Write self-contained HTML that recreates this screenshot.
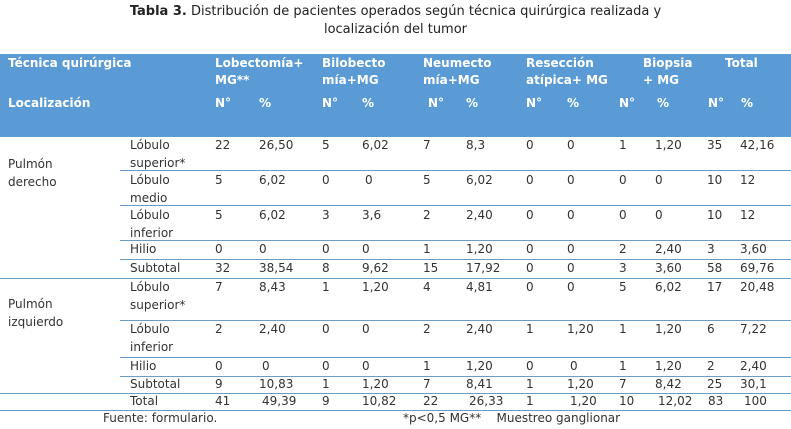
<!DOCTYPE html>
<html><head><meta charset="utf-8"><style>
body{margin:0;width:791px;height:429px;background:#fff;position:relative;overflow:hidden;font-family:"DejaVu Sans","Liberation Sans",sans-serif;font-size:12px;color:#333;}
.t{position:absolute;white-space:nowrap;line-height:18px}
.h{position:absolute;white-space:nowrap;color:#fff;font-weight:bold;line-height:17px;font-size:12px}
.l{position:absolute;height:1px;background:#6a9cc8}
#hd{position:absolute;left:0;top:54px;width:791px;height:83px;background:#5b9bd5}
</style></head><body>
<div class="t" style="left:0;width:791px;text-align:center;top:3px;font-size:13px;color:#222"><b>Tabla 3.</b> Distribución de pacientes operados según técnica quirúrgica realizada y</div>
<div class="t" style="left:0;width:791px;text-align:center;top:21px;font-size:13px;color:#222">localización del tumor</div>
<div id="hd"></div>
<div class="h" style="left:8px;top:55px">Técnica quirúrgica</div>
<div class="h" style="left:215px;top:55px">Lobectomía+<br>MG**</div>
<div class="h" style="left:322px;top:55px">Bilobecto<br>mía+MG</div>
<div class="h" style="left:423px;top:55px">Neumecto<br>mía+MG</div>
<div class="h" style="left:526px;top:55px">Resección<br>atípica+ MG</div>
<div class="h" style="left:643px;top:55px">Biopsia<br>+ MG</div>
<div class="h" style="left:725px;top:55px">Total</div>
<div class="h" style="left:8px;top:95px">Localización</div>
<div class="h" style="left:215px;top:95px">N°</div><div class="h" style="left:259px;top:95px">%</div>
<div class="h" style="left:322px;top:95px">N°</div><div class="h" style="left:362px;top:95px">%</div>
<div class="h" style="left:428px;top:95px">N°</div><div class="h" style="left:466px;top:95px">%</div>
<div class="h" style="left:526px;top:95px">N°</div><div class="h" style="left:567px;top:95px">%</div>
<div class="h" style="left:619px;top:95px">N°</div><div class="h" style="left:657px;top:95px">%</div>
<div class="h" style="left:708px;top:95px">N°</div><div class="h" style="left:741px;top:95px">%</div>

<div class="t" style="left:8px;top:155px">Pulmón<br>derecho</div>
<div class="t" style="left:8px;top:295px">Pulmón<br>izquierdo</div>

<div class="l" style="left:120px;width:671px;top:170px"></div>
<div class="l" style="left:120px;width:671px;top:205px"></div>
<div class="l" style="left:120px;width:671px;top:240px"></div>
<div class="l" style="left:120px;width:671px;top:259px"></div>
<div class="l" style="left:0;width:791px;top:278px"></div>
<div class="l" style="left:120px;width:671px;top:320px"></div>
<div class="l" style="left:120px;width:671px;top:357px"></div>
<div class="l" style="left:120px;width:671px;top:376px"></div>
<div class="l" style="left:0;width:791px;top:393px"></div>
<div class="l" style="left:0;width:791px;top:410px"></div>

<div class="t" style="left:130px;top:136px">Lóbulo<br>superior*</div>
<div class="t" style="left:130px;top:171px">Lóbulo<br>medio</div>
<div class="t" style="left:130px;top:206px">Lóbulo<br>inferior</div>
<div class="t" style="left:130px;top:240px">Hilio</div>
<div class="t" style="left:130px;top:259px">Subtotal</div>
<div class="t" style="left:130px;top:278px">Lóbulo<br>superior*</div>
<div class="t" style="left:130px;top:320px">Lóbulo<br>inferior</div>
<div class="t" style="left:130px;top:357px">Hilio</div>
<div class="t" style="left:130px;top:375px">Subtotal</div>
<div class="t" style="left:130px;top:392px">Total</div>

<div style="position:absolute;left:0;top:136px">
<span class="t" style="left:215px">22</span><span class="t" style="left:259px">26,50</span><span class="t" style="left:322px">5</span><span class="t" style="left:362px">6,02</span><span class="t" style="left:423px">7</span><span class="t" style="left:466px">8,3</span><span class="t" style="left:526px">0</span><span class="t" style="left:567px">0</span><span class="t" style="left:619px">1</span><span class="t" style="left:655px">1,20</span><span class="t" style="left:707px">35</span><span class="t" style="left:740px">42,16</span></div>
<div style="position:absolute;left:0;top:171px">
<span class="t" style="left:215px">5</span><span class="t" style="left:259px">6,02</span><span class="t" style="left:322px">0</span><span class="t" style="left:365px">0</span><span class="t" style="left:423px">5</span><span class="t" style="left:466px">6,02</span><span class="t" style="left:526px">0</span><span class="t" style="left:567px">0</span><span class="t" style="left:619px">0</span><span class="t" style="left:655px">0</span><span class="t" style="left:707px">10</span><span class="t" style="left:740px">12</span></div>
<div style="position:absolute;left:0;top:206px">
<span class="t" style="left:215px">5</span><span class="t" style="left:259px">6,02</span><span class="t" style="left:322px">3</span><span class="t" style="left:362px">3,6</span><span class="t" style="left:423px">2</span><span class="t" style="left:466px">2,40</span><span class="t" style="left:526px">0</span><span class="t" style="left:567px">0</span><span class="t" style="left:619px">0</span><span class="t" style="left:655px">0</span><span class="t" style="left:707px">10</span><span class="t" style="left:740px">12</span></div>
<div style="position:absolute;left:0;top:240px">
<span class="t" style="left:215px">0</span><span class="t" style="left:259px">0</span><span class="t" style="left:322px">0</span><span class="t" style="left:362px">0</span><span class="t" style="left:423px">1</span><span class="t" style="left:466px">1,20</span><span class="t" style="left:526px">0</span><span class="t" style="left:567px">0</span><span class="t" style="left:619px">2</span><span class="t" style="left:655px">2,40</span><span class="t" style="left:707px">3</span><span class="t" style="left:740px">3,60</span></div>
<div style="position:absolute;left:0;top:259px">
<span class="t" style="left:215px">32</span><span class="t" style="left:259px">38,54</span><span class="t" style="left:322px">8</span><span class="t" style="left:362px">9,62</span><span class="t" style="left:423px">15</span><span class="t" style="left:466px">17,92</span><span class="t" style="left:526px">0</span><span class="t" style="left:567px">0</span><span class="t" style="left:619px">3</span><span class="t" style="left:655px">3,60</span><span class="t" style="left:707px">58</span><span class="t" style="left:740px">69,76</span></div>
<div style="position:absolute;left:0;top:278px">
<span class="t" style="left:215px">7</span><span class="t" style="left:259px">8,43</span><span class="t" style="left:322px">1</span><span class="t" style="left:362px">1,20</span><span class="t" style="left:423px">4</span><span class="t" style="left:466px">4,81</span><span class="t" style="left:526px">0</span><span class="t" style="left:567px">0</span><span class="t" style="left:619px">5</span><span class="t" style="left:655px">6,02</span><span class="t" style="left:707px">17</span><span class="t" style="left:740px">20,48</span></div>
<div style="position:absolute;left:0;top:320px">
<span class="t" style="left:215px">2</span><span class="t" style="left:259px">2,40</span><span class="t" style="left:322px">0</span><span class="t" style="left:362px">0</span><span class="t" style="left:423px">2</span><span class="t" style="left:466px">2,40</span><span class="t" style="left:526px">1</span><span class="t" style="left:567px">1,20</span><span class="t" style="left:619px">1</span><span class="t" style="left:655px">1,20</span><span class="t" style="left:707px">6</span><span class="t" style="left:740px">7,22</span></div>
<div style="position:absolute;left:0;top:357px">
<span class="t" style="left:215px">0</span><span class="t" style="left:262px">0</span><span class="t" style="left:322px">0</span><span class="t" style="left:362px">0</span><span class="t" style="left:423px">1</span><span class="t" style="left:466px">1,20</span><span class="t" style="left:526px">0</span><span class="t" style="left:570px">0</span><span class="t" style="left:619px">1</span><span class="t" style="left:655px">1,20</span><span class="t" style="left:707px">2</span><span class="t" style="left:740px">2,40</span></div>
<div style="position:absolute;left:0;top:375px">
<span class="t" style="left:215px">9</span><span class="t" style="left:259px">10,83</span><span class="t" style="left:322px">1</span><span class="t" style="left:362px">1,20</span><span class="t" style="left:423px">7</span><span class="t" style="left:466px">8,41</span><span class="t" style="left:526px">1</span><span class="t" style="left:567px">1,20</span><span class="t" style="left:619px">7</span><span class="t" style="left:655px">8,42</span><span class="t" style="left:707px">25</span><span class="t" style="left:740px">30,1</span></div>
<div style="position:absolute;left:0;top:392px">
<span class="t" style="left:215px">41</span><span class="t" style="left:262px">49,39</span><span class="t" style="left:322px">9</span><span class="t" style="left:362px">10,82</span><span class="t" style="left:423px">22</span><span class="t" style="left:469px">26,33</span><span class="t" style="left:526px">1</span><span class="t" style="left:570px">1,20</span><span class="t" style="left:619px">10</span><span class="t" style="left:658px">12,02</span><span class="t" style="left:708px">83</span><span class="t" style="left:744px">100</span></div>

<div class="t" style="left:103px;top:409px">Fuente: formulario.</div>
<div class="t" style="left:403px;top:409px">*p&lt;0,5 MG**&nbsp;&nbsp;&nbsp;&nbsp;Muestreo ganglionar</div>
</body></html>
